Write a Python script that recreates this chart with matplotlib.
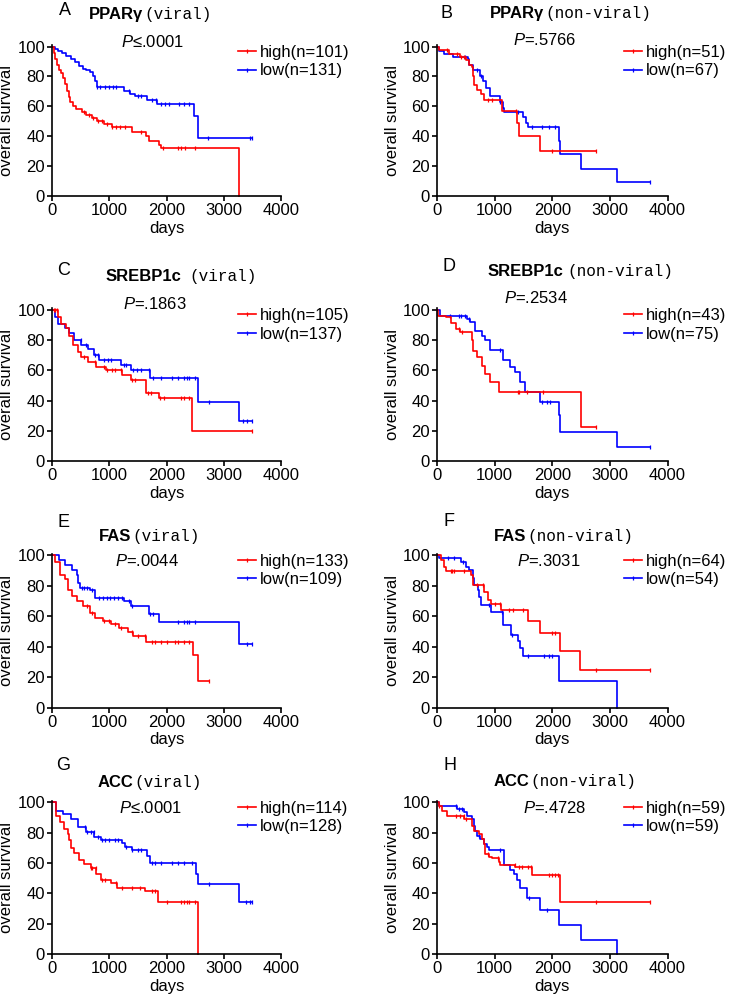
import numpy as np
import matplotlib
matplotlib.use('Agg')
from matplotlib import pyplot as plt
from matplotlib.lines import Line2D

plt.rcParams['font.family'] = ['Liberation Sans', 'DejaVu Sans']
plt.rcParams['mathtext.fontset'] = 'custom'
plt.rcParams['mathtext.it'] = 'Liberation Sans:italic'
plt.rcParams['mathtext.rm'] = 'Liberation Sans'

RED = '#ff0000'
BLUE = '#0000ff'

letters = ['A', 'B', 'C', 'D', 'E', 'F', 'G', 'H']
genes = ['PPARγ', 'PPARγ', 'SREBP1c', 'SREBP1c', 'FAS', 'FAS', 'ACC', 'ACC']
groups = ['(viral)', '(non-viral)', '(viral)', '(non-viral)',
          '(viral)', '(non-viral)', '(viral)', '(non-viral)']
p_values = ['≤.0001', '=.5766', '=.1863', '=.2534', '=.0044', '=.3031', '≤.0001', '=.4728']
n_high = [101, 51, 105, 43, 133, 64, 114, 59]
n_low = [131, 67, 137, 75, 109, 54, 128, 59]

# step curves: time (days), survival (%) ; censor times
a_high_t = [0, 30, 60, 90, 120, 150, 190, 230, 260, 290, 320, 360, 420, 520, 600, 700, 780, 900, 1050, 1400, 1650, 1700, 1870, 1900, 3270]
a_high_s = [100, 96, 92, 88, 84, 82, 79, 75, 70, 66, 63, 60, 58, 56, 54, 52, 50, 48, 46, 43, 40, 37, 34, 32, 0]
a_high_c = [560, 640, 720, 800, 870, 960, 1050, 1110, 1180, 1280, 1560, 1930, 2200, 2260, 2320, 2500]
a_low_t = [0, 50, 106, 180, 253, 330, 400, 470, 546, 600, 664, 720, 752, 780, 1163, 1250, 1370, 1457, 1660, 1840, 2455, 2473, 2543, 3500]
a_low_s = [100, 98.5, 97, 95.5, 94, 92, 89.6, 87, 85, 84, 83, 80, 77, 73, 73, 70.6, 68, 67, 64, 61.8, 61.8, 53.4, 38.6, 38.6]
a_low_c = [780, 830, 920, 1000, 1070, 1120, 1350, 1500, 1560, 1750, 1820, 1900, 1980, 2050, 2220, 2300, 2400, 2730, 3450, 3500]

b_high_t = [0, 40, 200, 400, 500, 560, 600, 630, 650, 700, 760, 820, 1120, 1390, 1415, 1780, 2750]
b_high_s = [100, 98, 95, 93, 91, 88, 86, 80, 74, 71, 68, 64, 57, 49, 40, 30, 30]
b_high_c = [170, 350, 420, 470, 880, 960, 1370, 2000, 2750]
b_low_t = [0, 40, 128, 270, 533, 560, 620, 740, 800, 850, 920, 1090, 1150, 1160, 1270, 1500, 1540, 1580, 2120, 2140, 2500, 3130, 3700]
b_low_s = [100, 97, 95, 93, 91.6, 88, 84, 80, 77, 72, 67, 63, 59, 56, 56, 53, 49, 46.5, 37, 28, 18.5, 9.2, 9.2]
b_low_c = [480, 700, 760, 1100, 1400, 1650, 1830, 1950, 2050, 3700]

c_high_t = [0, 104, 160, 248, 306, 364, 450, 508, 623, 768, 941, 1230, 1374, 1633, 1865, 2453, 3500]
c_high_s = [100, 95, 90.6, 88, 83, 76.5, 72, 69, 65.6, 62, 60, 57, 53.7, 45, 41.7, 20, 20]
c_high_c = [30, 60, 80, 560, 750, 900, 960, 1050, 1100, 1200, 1400, 1450, 1680, 1730, 1880, 1950, 2250, 2300, 2400, 3500]
c_low_t = [0, 46, 104, 219, 306, 392, 508, 623, 739, 825, 1200, 1374, 1720, 2545, 3261, 3500]
c_low_s = [100, 95, 90.6, 88, 85, 80, 76.5, 74, 70, 66.7, 63.5, 60, 55, 39, 26.5, 26.5]
c_low_c = [500, 600, 750, 800, 900, 980, 1030, 1260, 1300, 1410, 1480, 1550, 1700, 1770, 1900, 2100, 2200, 2300, 2350, 2400, 2500, 2740, 3330, 3400, 3500]

d_high_t = [0, 17, 163, 250, 337, 395, 599, 628, 686, 773, 831, 919, 1081, 2500, 2750]
d_high_s = [100, 96, 95, 91, 87.5, 85.3, 80, 73, 69, 63, 58, 52.4, 46, 23, 23]
d_high_c = [380, 430, 1400, 1430, 1560, 1840, 2750]
d_low_t = [0, 58, 512, 570, 657, 773, 831, 919, 1151, 1267, 1355, 1442, 1529, 1791, 2110, 2128, 3128, 3700]
d_low_s = [100, 96, 94, 92, 86, 83, 80, 73.7, 66.7, 62, 59, 52.4, 46, 39.5, 30.5, 19.5, 9.6, 9.6]
d_low_c = [220, 380, 420, 480, 560, 1100, 1820, 1900, 1960, 3700]

e_high_t = [0, 57, 143, 230, 287, 344, 430, 545, 660, 746, 890, 1033, 1176, 1320, 1406, 1635, 2467, 2542, 2750]
e_high_s = [100, 95.7, 87, 84, 77.4, 73, 69.9, 66.7, 62, 59, 57, 54.8, 52.3, 49.5, 47.3, 43, 34.4, 17.2, 17.2]
e_high_c = [620, 700, 900, 1000, 1100, 1200, 1400, 1500, 1620, 1750, 1800, 1900, 2000, 2150, 2200, 2300, 2400, 2750]
e_low_t = [0, 115, 230, 344, 430, 459, 488, 660, 746, 1262, 1377, 1693, 1865, 3271, 3500]
e_low_s = [100, 96.8, 93.5, 90.3, 87, 81.7, 78.5, 77.4, 72, 70, 66.7, 61.3, 56, 42, 42]
e_low_c = [520, 560, 620, 700, 820, 890, 960, 1010, 1080, 1150, 1220, 1350, 1400, 1710, 1760, 2200, 2300, 2350, 2400, 2500, 3400, 3500]

f_high_t = [0, 70, 128, 157, 591, 620, 823, 881, 939, 1113, 1577, 1791, 2139, 2487, 3700]
f_high_s = [100, 96.7, 92.4, 89.8, 87, 80.4, 76, 70.6, 68, 64, 56.5, 49, 37, 25, 25]
f_high_c = [240, 260, 300, 470, 700, 800, 1000, 1100, 1250, 1320, 1500, 2000, 2050, 2750, 3700]
f_low_t = [0, 40, 417, 504, 562, 620, 649, 707, 736, 765, 939, 1142, 1287, 1403, 1443, 1490, 2116, 3125]
f_low_s = [100, 98, 95.7, 92.4, 90, 84.8, 80.4, 77, 72.8, 67.4, 63, 54.3, 47.8, 43.5, 39, 33.7, 17.4, 0]
f_low_c = [190, 300, 450, 900, 1120, 1300, 1580, 1850, 1950, 2000]

g_high_t = [0, 75, 132, 218, 276, 305, 333, 391, 477, 563, 678, 764, 851, 1023, 1138, 1626, 1856, 2546]
g_high_s = [100, 91.3, 87, 82.7, 79.4, 75, 69.7, 66.5, 62, 59, 56.7, 52.4, 49, 47, 43.7, 41.6, 34, 0]
g_high_c = [680, 700, 760, 880, 920, 1120, 1230, 1400, 1530, 1750, 1800, 2000, 2250, 2300, 2350, 2400, 2500]
g_low_t = [0, 75, 190, 333, 448, 592, 736, 851, 1224, 1282, 1397, 1655, 1713, 2517, 2546, 3264, 3500]
g_low_s = [100, 94.6, 92.4, 89, 83.8, 80.5, 77.3, 75, 73, 70.8, 68.6, 64.3, 60, 52.4, 45.9, 34, 34]
g_low_c = [580, 620, 680, 730, 800, 880, 920, 1000, 1100, 1150, 1300, 1400, 1500, 1560, 1750, 1800, 1900, 2100, 2200, 2300, 2450, 2740, 3380, 3450, 3500]

h_high_t = [0, 29, 87, 173, 462, 606, 635, 722, 779, 808, 837, 895, 952, 1068, 1097, 1356, 1645, 2136, 3700]
h_high_s = [100, 97.8, 94.5, 91.3, 89, 84.7, 81.4, 79, 76, 72.7, 66, 64, 63, 60.7, 58.5, 57.4, 52, 34.5, 34.5]
h_high_c = [40, 330, 400, 460, 500, 880, 1050, 1350, 1420, 1480, 1570, 1630, 1950, 2000, 2050, 2100, 2750, 3700]
h_low_t = [0, 29, 346, 462, 520, 606, 635, 664, 693, 750, 808, 866, 895, 1154, 1270, 1328, 1385, 1443, 1558, 1789, 2118, 2494, 3128]
h_low_s = [100, 97.8, 95.6, 93.4, 91.3, 89, 84.7, 81.4, 78, 76, 72.7, 70.5, 68.8, 58.5, 55.2, 53, 48.7, 43.2, 36.7, 29, 19.2, 9.4, 0]
h_low_c = [330, 380, 440, 720, 1100, 1600, 1900]

high_curves = [(a_high_t, a_high_s, a_high_c), (b_high_t, b_high_s, b_high_c),
               (c_high_t, c_high_s, c_high_c), (d_high_t, d_high_s, d_high_c),
               (e_high_t, e_high_s, e_high_c), (f_high_t, f_high_s, f_high_c),
               (g_high_t, g_high_s, g_high_c), (h_high_t, h_high_s, h_high_c)]
low_curves = [(a_low_t, a_low_s, a_low_c), (b_low_t, b_low_s, b_low_c),
              (c_low_t, c_low_s, c_low_c), (d_low_t, d_low_s, d_low_c),
              (e_low_t, e_low_s, e_low_c), (f_low_t, f_low_s, f_low_c),
              (g_low_t, g_low_s, g_low_c), (h_low_t, h_low_s, h_low_c)]

# layout (figure fraction) and text placement (axes fraction)
row_bottom = [0.804, 0.539, 0.293, 0.047]
row_height = [0.151, 0.153, 0.154, 0.153]
col_left = [0.071, 0.597]
col_width = [0.313, 0.315]
title_split = [(0.40, 1.20, 0.005), (0.465, 1.21, 0.005), (0.563, 1.21, 0.035), (0.55, 1.24, 0.015),
               (0.345, 1.11, 0.005), (0.387, 1.11, 0.005), (0.355, 1.12, 0.005), (0.40, 1.125, 0.005)]
letter_pos = [(0.057, 1.23), (0.04, 1.21), (0.05, 1.25), (0.05, 1.27),
              (0.05, 1.20), (0.05, 1.21), (0.05, 1.23), (0.055, 1.23)]
p_pos = [(0.44, 1.02), (0.465, 1.033), (0.45, 1.026), (0.43, 1.065),
         (0.415, 0.95), (0.485, 0.95), (0.43, 0.955), (0.51, 0.955)]


def draw_curve(ax, t, s, cens, color):
    t = np.asarray(t, float)
    s = np.asarray(s, float)
    ax.step(t, s, where='post', color=color, lw=1.2, clip_on=False)
    c = np.asarray(cens, float)
    idx = np.searchsorted(t, c, side='right') - 1
    ax.plot(c, s[idx], ls='none', marker='|', ms=3, mew=0.9, color=color, clip_on=False)


fig = plt.figure(figsize=(7.32, 10.01), dpi=100)

for i in range(8):
    r, col = i // 2, i % 2
    ax = fig.add_axes([col_left[col], row_bottom[r], col_width[col], row_height[r]])

    # low first, high on top
    draw_curve(ax, *low_curves[i], BLUE)
    draw_curve(ax, *high_curves[i], RED)

    ax.set_xlim(0, 4000)
    ax.set_ylim(0, 101)
    ax.set_xticks([0, 1000, 2000, 3000, 4000])
    ax.set_yticks([0, 20, 40, 60, 80, 100])
    ax.spines['top'].set_visible(False)
    ax.spines['right'].set_visible(False)
    for sp in ['left', 'bottom']:
        ax.spines[sp].set_linewidth(1.2)
    ax.tick_params(direction='out', length=3.5, width=1.2, labelsize=12, pad=1.5)
    ax.set_xlabel('days', fontsize=12, labelpad=2)
    ax.set_ylabel('overall survival', fontsize=12, labelpad=2)

    sx, sy, gap = title_split[i]
    ax.text(sx, sy, genes[i], transform=ax.transAxes, ha='right', va='center',
            fontsize=12, fontweight='bold')
    ax.text(sx + gap, sy, groups[i], transform=ax.transAxes, ha='left', va='center',
            fontsize=11.5, family=['Liberation Mono', 'DejaVu Sans Mono'])
    lx, ly = letter_pos[i]
    ax.text(lx, ly, letters[i], transform=ax.transAxes, ha='center', va='center', fontsize=13)
    px, py = p_pos[i]
    ax.text(px, py, '$\\mathit{P}$' + p_values[i], transform=ax.transAxes,
            ha='center', va='center', fontsize=12)

    handles = [Line2D([], [], color=RED, lw=1.2, marker='|', ms=3, mew=0.9),
               Line2D([], [], color=BLUE, lw=1.2, marker='|', ms=3, mew=0.9)]
    labels = ['high(n=%d)' % n_high[i], 'low(n=%d)' % n_low[i]]
    ax.legend(handles, labels, loc='upper left', bbox_to_anchor=(0.81, 1.0),
              frameon=False, fontsize=12, handlelength=1.1, handletextpad=0.25,
              labelspacing=0.2, borderpad=0, borderaxespad=0, numpoints=1)

fig.savefig('out.png', dpi=100)
